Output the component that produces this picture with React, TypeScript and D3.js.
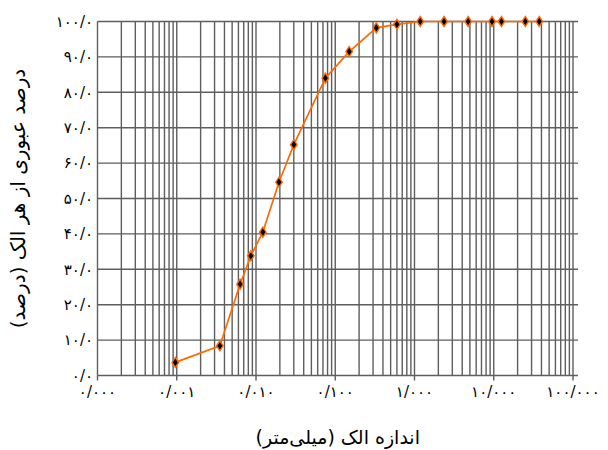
import React from 'react';
import * as d3 from 'd3';

// sieve / hydrometer sizes (mm) and percent passing
const sizes = [37.5, 25, 12.5, 9.5, 4.75, 2.36, 1.18, 0.6, 0.33, 0.15, 0.075, 0.03, 0.0195, 0.0122, 0.0086, 0.0063, 0.0035, 0.00096];
const passing = [100, 100, 100, 100, 100, 100, 100, 99.2, 98.2, 91.5, 84.0, 65.2, 54.6, 40.5, 33.8, 25.8, 8.4, 3.7];

const xTicks = [0.0001, 0.001, 0.01, 0.1, 1, 10, 100];
const yTicks = [0, 10, 20, 30, 40, 50, 60, 70, 80, 90, 100];

const xTitle = 'اندازه الک (میلی‌متر)';
const yTitle = 'درصد عبوری از هر الک (درصد)';

const faDigits = '۰۱۲۳۴۵۶۷۸۹';
const toFa = (s: string) => s.replace(/[0-9]/g, (c) => faDigits[+c]).replace('.', '/');

const W = 608;
const H = 450;
const left = 97.5;
const right = 573;
const axisEnd = 578;
const top = 21.5;
const bottom = 375.5;
const font = '"DejaVu Sans", serif';

export default function App() {
  const x = d3.scaleLog().domain([0.0001, 100]).range([left, right]);
  const y = d3.scaleLinear().domain([0, 100]).range([bottom, top]);

  // all 1..9 lines of every decade
  const grid: number[] = [];
  for (let e = -4; e < 2; e++) {
    for (let m = 1; m <= 9; m++) grid.push(m * Math.pow(10, e));
  }
  grid.push(100);

  const pts = sizes.map((s, i) => [x(s), y(passing[i])] as [number, number]);
  const line = d3.line()(pts) || '';

  return (
    <svg width={W} height={H} style={{ position: 'absolute', left: 0, top: 0, background: '#fff' }}>
      <g stroke="#5e5e5e" strokeWidth={1.4}>
        {grid.map((g, i) => (
          <line key={'v' + i} x1={x(g)} x2={x(g)} y1={top} y2={bottom} />
        ))}
        {yTicks.map((t) => (
          <line key={'h' + t} x1={left} x2={axisEnd} y1={y(t)} y2={y(t)} />
        ))}
        {xTicks.map((t) => (
          <line key={'t' + t} x1={x(t)} x2={x(t)} y1={bottom} y2={bottom + 5} />
        ))}
      </g>

      <g fontFamily={font} fontSize={15} fill="#000" letterSpacing={1.5}>
        {yTicks.map((t) => (
          <text key={'yl' + t} x={93} y={y(t)} dy="0.35em" textAnchor="end">
            {toFa(t.toFixed(1))}
          </text>
        ))}
        {xTicks.map((t) => (
          <text key={'xl' + t} x={x(t)} y={392} dy="0.35em" textAnchor="middle">
            {toFa(t.toFixed(3))}
          </text>
        ))}
      </g>

      <text x={(left + axisEnd) / 2} y={437} dy="0.35em" textAnchor="middle" direction="rtl"
        fontFamily={font} fontSize={19}>
        {xTitle}
      </text>
      <text transform={`translate(18,${(top + bottom) / 2}) rotate(-90)`} dy="0.35em" textAnchor="middle"
        direction="rtl" fontFamily={font} fontSize={20}>
        {yTitle}
      </text>

      <path d={line} fill="none" stroke="#ff6a00" strokeWidth={1.7} />
      {pts.map(([px, py], i) => (
        <path key={'m' + i} transform={`translate(${px},${py})`} d="M0,-5L3.3,0L0,5L-3.3,0Z"
          fill="#000" stroke="#ff6a00" strokeWidth={1.4} />
      ))}
    </svg>
  );
}
